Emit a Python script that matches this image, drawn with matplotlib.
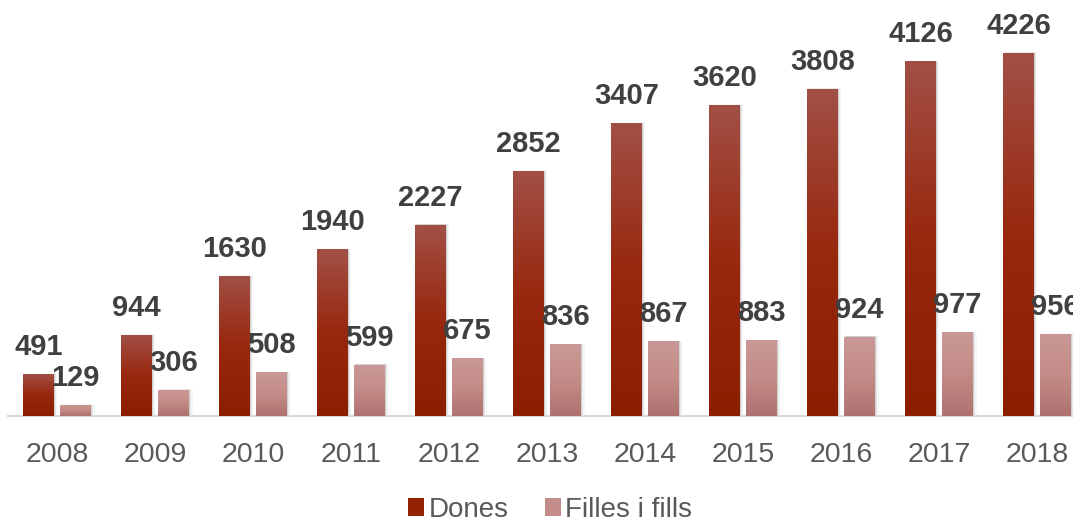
import numpy as np
import matplotlib
matplotlib.use("Agg")
import matplotlib.pyplot as plt
from matplotlib.colors import LinearSegmentedColormap
from matplotlib.patches import Rectangle

years = ["2008", "2009", "2010", "2011", "2012", "2013", "2014", "2015", "2016", "2017", "2018"]
dones = [491, 944, 1630, 1940, 2227, 2852, 3407, 3620, 3808, 4126, 4226]
filles = [129, 306, 508, 599, 675, 836, 867, 883, 924, 977, 956]

plt.rcParams['font.family'] = ['Liberation Sans', 'DejaVu Sans']

W, H = 1073, 522
fig = plt.figure(figsize=(W / 100, H / 100), dpi=100)
# axes spans x from 8px to 1086px (clipped by figure), baseline at y=416px
left = 8 / W
width = (1086 - 8) / W
bottom = (H - 416) / H
height = 416 / H
ax = fig.add_axes([left, bottom, width, height])
ax.set_xlim(-0.5, len(years) - 0.5)
ax.set_ylim(0, 4840)

x = np.arange(len(years))
bw = 0.316
off = 0.189

cm_d = LinearSegmentedColormap.from_list("d", ["#8C1E00", "#98280E", "#A25046"])
cm_f = LinearSegmentedColormap.from_list("f", ["#AE7270", "#C48C88", "#C99896"])

bars_d = ax.bar(x - off, dones, bw, color="#952200", zorder=3, linewidth=0)
bars_f = ax.bar(x + off, filles, bw, color="#C08684", zorder=3, linewidth=0)

grad = np.linspace(0, 1, 256).reshape(-1, 1)
for bars, cmap in ((bars_d, cm_d), (bars_f, cm_f)):
    for p in bars:
        x0, y0 = p.get_x(), p.get_y()
        w, h = p.get_width(), p.get_height()
        # soft shadow
        for k, a in enumerate([0.10, 0.06, 0.03]):
            dx = 0.012 * (k + 1)
            ax.add_patch(Rectangle((x0 + dx * 0.6, y0), w + dx * 0.4, h + 8 * (k + 1) * 0.2,
                                   facecolor="#000000", alpha=a, linewidth=0, zorder=2))
        im = ax.imshow(grad, cmap=cmap, origin="lower", aspect="auto",
                       extent=[x0, x0 + w, y0, y0 + h], zorder=4, interpolation="bilinear")
        im.set_clip_path(p)

ax.set_xlim(-0.5, len(years) - 0.5)
ax.set_ylim(0, 4840)

for xi, v in zip(x, dones):
    ax.annotate(str(v), (xi - off, v), xytext=(0, 13), textcoords="offset pixels",
                ha="center", va="bottom", fontsize=21, fontweight="bold", color="#404040", zorder=6)
for xi, v in zip(x, filles):
    ax.annotate(str(v), (xi + off, v), xytext=(0, 13), textcoords="offset pixels",
                ha="center", va="bottom", fontsize=21, fontweight="bold", color="#404040", zorder=6)

for s in ["top", "right", "left"]:
    ax.spines[s].set_visible(False)
ax.spines["bottom"].set_color("#D9D9D9")
ax.spines["bottom"].set_linewidth(1.5)
ax.set_yticks([])
ax.set_xticks(x)
ax.set_xticklabels(years, fontsize=20.5, color="#595959")
ax.tick_params(axis="x", length=0, pad=19)

h1 = Rectangle((0, 0), 1, 1, facecolor="#952200")
h2 = Rectangle((0, 0), 1, 1, facecolor="#C48C8A")
fig.legend([h1, h2], ["Dones", "Filles i fills"], loc="center", bbox_to_anchor=(550 / W, 1 - 510 / H),
           ncol=2, frameon=False, fontsize=20, handlelength=0.6, handleheight=0.6,
           handletextpad=0.15, columnspacing=1.3, labelcolor="#595959")

fig.savefig("out.png", dpi=100)
